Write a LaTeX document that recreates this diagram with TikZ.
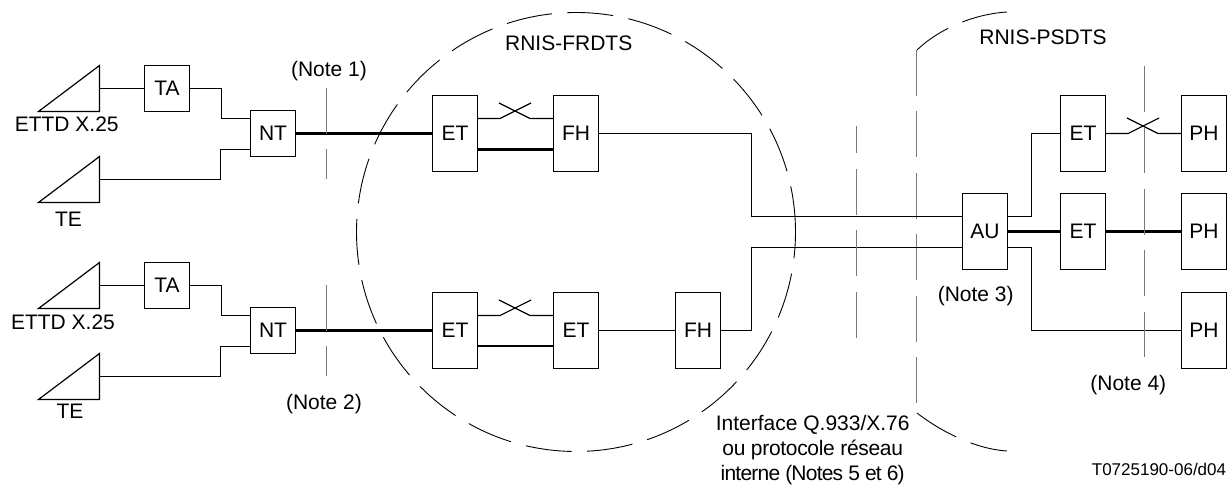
\documentclass[tikz,border=0pt]{standalone}
\usepackage{fontspec}
\setmainfont{Liberation Sans}
\usepackage{tikz}
\usetikzlibrary{positioning}

\begin{document}
\begin{tikzpicture}[x=1pt,y=1pt,line join=miter,
  lbl/.style={inner sep=0pt,font=\fontsize{21}{25}\selectfont,align=center},
  smallbox/.style={draw,line width=1.2pt,minimum width=45pt,minimum height=46pt,inner sep=0pt,font=\fontsize{21}{25}\selectfont},
  tallbox/.style={smallbox,minimum height=76pt},
  thin link/.style={line width=1.2pt},
  thick link/.style={line width=2.1pt},
  network/.style={line width=0.9pt,dash pattern=on 46pt off 15.5pt},
  marker/.style={gray!95!black,line width=1.4pt,dash pattern=on 46pt off 15.5pt}]
\useasboundingbox (0,0) rectangle (1229,486);

% Network outlines
\draw[network] (576,254) circle (219.5);
\draw[network] (1007,474) .. controls (975,472) and (940,458) .. (917,436);
\draw[network] (917,73) .. controls (940,55) and (975,37) .. (1007,35);
\draw[marker,line width=1.1pt] (916.5,436) -- (916.5,83);

% Terminals
\coordinate (termA) at (99.5,397.5);
\coordinate (termB) at (99.5,306.5);
\coordinate (termC) at (99.5,200.5);
\coordinate (termD) at (99.5,109.5);
\draw[thin link] (termA) ++(0,23) -- ++(-61,-46) -- ++(61,0) -- cycle;
\draw[thin link] (termB) ++(0,23) -- ++(-61,-46) -- ++(61,0) -- cycle;
\draw[thin link] (termC) ++(0,23) -- ++(-61,-46) -- ++(61,0) -- cycle;
\draw[thin link] (termD) ++(0,23) -- ++(-61,-46) -- ++(61,0) -- cycle;

% Boxes
\node[smallbox] (taA) at (167,397.5) {TA};
\node[smallbox] (ntA) at (273,352.5) {NT};
\node[smallbox] (taB) at (167,200.5) {TA};
\node[smallbox] (ntB) at (273,155.5) {NT};
\node[tallbox] (etA) at (455,352.5) {ET};
\node[tallbox] (fhA) at (576,352.5) {FH};
\node[tallbox] (etB) at (455,155.5) {ET};
\node[tallbox] (etC) at (576,155.5) {ET};
\node[tallbox] (fhB) at (698,155.5) {FH};
\node[tallbox] (au) at (985,254.5) {AU};
\node[tallbox] (etD) at (1083,352.5) {ET};
\node[tallbox] (etE) at (1083,254.5) {ET};
\node[tallbox] (phA) at (1204,352.5) {PH};
\node[tallbox] (phB) at (1204,254.5) {PH};
\node[tallbox] (phC) at (1204,155.5) {PH};

% Access side
\draw[thin link] (termA) -- (taA);
\draw[thin link] (taA.east) -- ++(31,0) |- ([yshift=15pt]ntA.west);
\draw[thin link] (termB) -- ++(121,0) |- ([yshift=-16pt]ntA.west);
\draw[thin link] (termC) -- (taB);
\draw[thin link] (taB.east) -- ++(31,0) |- ([yshift=15pt]ntB.west);
\draw[thin link] (termD) -- ++(121,0) |- ([yshift=-16pt]ntB.west);
\draw[thick link] (ntA) -- (etA);
\draw[thick link] (ntB) -- (etB);

% Switched and fixed links
\draw[thin link] ([yshift=15pt]etA.east) -- ++(22,0) -- ++(31,15.5);
\draw[thin link] ([yshift=15pt]fhA.west) -- ++(-23,0) -- ++(-31,15.5);
\draw[thick link] ([yshift=-16pt]etA.east) -- ([yshift=-16pt]fhA.west);
\draw[thin link] ([yshift=15pt]etB.east) -- ++(22,0) -- ++(31,15.5);
\draw[thin link] ([yshift=15pt]etC.west) -- ++(-23,0) -- ++(-31,15.5);
\draw[thick link] ([yshift=-15.5pt]etB.east) -- ([yshift=-15.5pt]etC.west);
\draw[thin link] (etC) -- (fhB);

% Towards AU
\draw[thin link] (fhA.east) -- ++(152,0) |- ([yshift=15pt]au.west);
\draw[thin link] (fhB.east) -- ++(30,0) |- ([yshift=-16pt]au.west);
\draw[thin link] ([yshift=15pt]au.east) -- ++(23,0) |- (etD.west);
\draw[thick link] (au) -- (etE);
\draw[thin link] ([yshift=-16pt]au.east) -- ++(23,0) |- (phC.west);
\draw[thick link] (etE) -- (phB);
\draw[thin link] (etD.east) -- ++(22,0) -- ++(31,15.5);
\draw[thin link] (phA.west) -- ++(-23,0) -- ++(-31,15.5);

% Note markers
\draw[marker] (326.5,398) -- (326.5,307);
\draw[marker] (326.5,201) -- (326.5,110);
\draw[marker,line width=1.1pt] (856.5,148.3) -- (856.5,360);
\draw[marker] (1144.5,420.3) -- (1144.5,128.7);

% Labels
\node[lbl] (ettdA) at (66.7,362) {ETTD X.25};
\node[lbl] (teA) at (68.5,266.5) {TE};
\node[lbl] (ettdB) at (63,164) {ETTD X.25};
\node[lbl] (teB) at (70,74.5) {TE};
\node[lbl] (noteA) at (329,414.5) {(Note 1)};
\node[lbl] (noteB) at (324,81.5) {(Note 2)};
\node[lbl] (noteC) at (975.7,190) {(Note 3)};
\node[lbl] (noteD) at (1128.3,100.5) {(Note 4)};
\node[lbl] (frdts) at (568.7,443) {RNIS-FRDTS};
\node[lbl] (psdts) at (1043,449) {RNIS-PSDTS};
\node[lbl] (iface) at (812.7,35.5) {Interface Q.933/X.76\\{\addfontfeatures{LetterSpace=-1.5}ou protocole réseau}\\{\addfontfeatures{LetterSpace=-3.7}interne (Notes 5 et 6)}};
\node[lbl,font=\fontsize{17}{20}\selectfont] (ref) at (1159,17) {T0725190-06/d04};
\end{tikzpicture}
\end{document}
